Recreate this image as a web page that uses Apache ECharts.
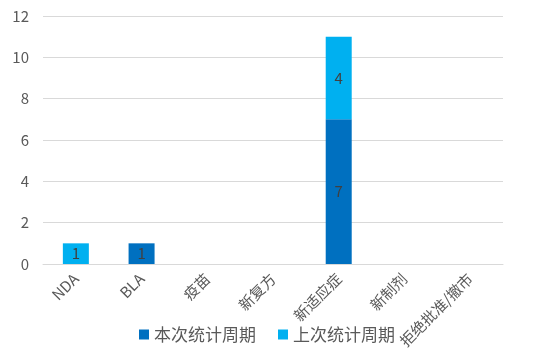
<!DOCTYPE html>
<html><head><meta charset="utf-8">
<script src="https://cdn.jsdelivr.net/npm/echarts@6/dist/echarts.min.js"></script>
<style>html,body{margin:0;padding:0;background:#fff}#c{width:548px;height:354px}</style>
</head><body><div id="c"></div>
<script>
var categories = ['NDA','BLA','疫苗','新复方','新适应症','新制剂','拒绝批准/撤市'];
var current = [null, 1, null, null, 7, null, null];
var previous = [1, null, null, null, 4, null, null];
var seriesNames = ['本次统计周期','上次统计周期'];
var font = '"Microsoft YaHei","Noto Sans CJK SC","Open Sans",sans-serif';
var chart = echarts.init(document.getElementById('c'), null, {renderer:'canvas'});
var lbl = {show:true, position:'inside', color:'#404040', fontSize:15, fontFamily:font,
  formatter:function(p){return p.value ? p.value : '';}};
chart.setOption({
  animation:false,
  grid:{left:43, right:45, top:16, bottom:90},
  legend:{bottom:6, left:134, itemWidth:10, itemHeight:10, itemGap:22, icon:'rect',
    textStyle:{fontSize:17, color:'#595959', fontFamily:font},
    data:seriesNames},
  xAxis:{type:'category', data:categories,
    axisLine:{lineStyle:{color:'#d9d9d9'}}, axisTick:{show:false},
    axisLabel:{rotate:45, interval:0, color:'#595959', fontSize:15, fontFamily:font, margin:12}},
  yAxis:{type:'value', min:0, max:12, interval:2,
    axisLine:{show:false}, axisTick:{show:false},
    splitLine:{lineStyle:{color:'#d9d9d9', width:1}},
    axisLabel:{color:'#595959', fontSize:15, fontFamily:font, margin:14}},
  series:[
    {name:seriesNames[0], type:'bar', stack:'a', data:current, barWidth:26,
     itemStyle:{color:'#0070C0'}, label:lbl},
    {name:seriesNames[1], type:'bar', stack:'a', data:previous, barWidth:26,
     itemStyle:{color:'#00B0F0'}, label:lbl}
  ]
});
</script></body></html>
